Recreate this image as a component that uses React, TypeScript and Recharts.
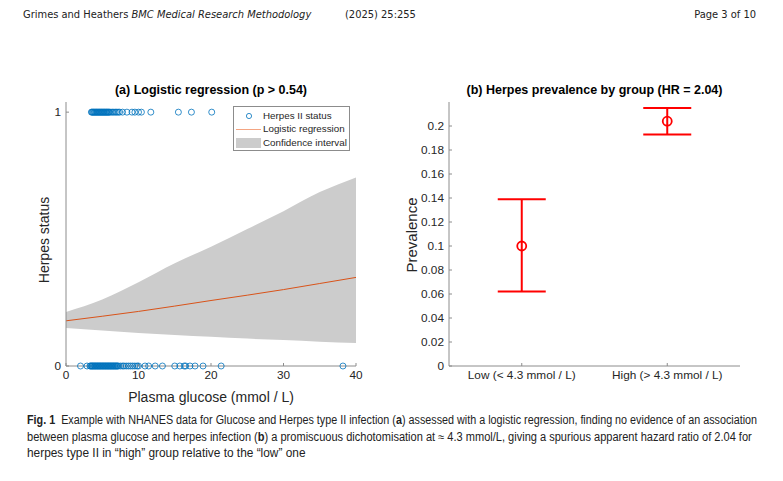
import React, { useLayoutEffect, useRef, useState } from 'react';
import { ComposedChart, Area, Line, Scatter, XAxis, YAxis, ErrorBar } from 'recharts';

// panel (a): logistic fit + confidence band
const glucoseGrid = [0, 5, 10, 15, 20, 25, 30, 35, 40];
const fitValues = [0.178, 0.196, 0.215, 0.236, 0.258, 0.279, 0.301, 0.325, 0.349];
const ciLower = [0.15, 0.14, 0.13, 0.122, 0.115, 0.108, 0.102, 0.096, 0.091];
const ciUpper = [0.213, 0.262, 0.33, 0.405, 0.47, 0.54, 0.61, 0.685, 0.743];

// glucose of individual subjects (status 1 = positive, 0 = negative)
const positiveGlucose = [
  3.5, 3.6, 3.7, 3.8, 3.9, 4.0, 4.1, 4.2, 4.3, 4.4, 4.5, 4.6, 4.7, 4.8, 4.9, 5.0, 5.1, 5.2,
  5.3, 5.4, 5.5, 5.6, 5.7, 5.8, 5.9, 6.0, 6.2, 6.4, 6.6, 6.8, 7.0, 7.2, 7.4, 7.8, 8.4, 9.1,
  9.5, 10.0, 10.4, 11.7, 15.5, 17.3, 20.1,
];
const negativeGlucose = [
  2.0, 2.9, 3.3, 3.4, 3.5, 3.6, 3.7, 3.8, 3.9, 4.0, 4.1, 4.2, 4.3, 4.4, 4.5, 4.6, 4.7, 4.8,
  4.9, 5.0, 5.1, 5.2, 5.3, 5.4, 5.5, 5.6, 5.7, 5.8, 5.9, 6.0, 6.1, 6.2, 6.3, 6.4, 6.5, 6.6,
  6.7, 6.8, 6.9, 7.0, 7.1, 7.2, 7.5, 7.8, 8.0, 8.3, 8.6, 8.9, 9.2, 9.5, 9.8, 10.0, 10.9, 11.4,
  12.3, 13.3, 15.0, 15.7, 16.3, 16.5, 17.1, 17.8, 18.9, 21.4, 38.2,
];
const xTicksA = [0, 10, 20, 30, 40];
const yTicksA = [0, 1];

// panel (b): prevalence by group
const groups = ['Low (< 4.3 mmol / L)', 'High (> 4.3 mmol / L)'];
const prevalence = [0.1, 0.204];
const prevLower = [0.062, 0.193];
const prevUpper = [0.139, 0.215];
const yTicksB = [0, 0.02, 0.04, 0.06, 0.08, 0.1, 0.12, 0.14, 0.16, 0.18, 0.2];

const ciRows = glucoseGrid.map((x, i) => ({ x, fit: fitValues[i], ci: [ciLower[i], ciUpper[i]] }));
const posRows = positiveGlucose.map((x) => ({ x, y: 1 }));
const negRows = negativeGlucose.map((x) => ({ x, y: 0 }));
const groupRows = groups.map((g, i) => ({
  x: i + 1,
  y: prevalence[i],
  err: [prevalence[i] - prevLower[i], prevUpper[i] - prevalence[i]],
}));

const FONT = '"Liberation Sans", Arial, sans-serif';
const NARROW = '"Liberation Sans Narrow", "DejaVu Sans Condensed", sans-serif';
const AXIS = '#8c8c8c';
const TEXT = '#262626';
const tickStyle = { fontSize: 11.8, fill: TEXT, fontFamily: FONT };

const BlueRing = (props: any) => (
  <circle cx={props.cx} cy={props.cy} r={3} fill="none" stroke="#0072BD" strokeWidth={0.8} />
);
const RedRing = (props: any) => (
  <circle cx={props.cx} cy={props.cy} r={4.5} fill="none" stroke="#FF0000" strokeWidth={1.8} />
);

const abs = (left: number, top: number, extra: React.CSSProperties = {}): React.CSSProperties => ({
  position: 'absolute',
  left,
  top,
  whiteSpace: 'nowrap',
  ...extra,
});

// squeezes one line of text horizontally to a given printed width
const FitLine = ({ left, top, width, children }: { left: number; top: number; width: number; children: React.ReactNode }) => {
  const ref = useRef<HTMLDivElement>(null);
  const [scale, setScale] = useState(1);
  useLayoutEffect(() => {
    if (ref.current) setScale(width / ref.current.offsetWidth);
  }, [width]);
  return (
    <div
      ref={ref}
      style={abs(left, top, {
        display: 'inline-block',
        fontFamily: FONT,
        fontSize: 12,
        color: '#222',
        transform: `scaleX(${scale})`,
        transformOrigin: 'left top',
      })}
    >
      {children}
    </div>
  );
};

const PanelA = () => (
  <ComposedChart
    width={380}
    height={420}
    data={ciRows}
    margin={{ top: 102, right: 24, bottom: 24, left: 46 }}
  >
    <XAxis
      dataKey="x"
      type="number"
      domain={[0, 40]}
      ticks={xTicksA}
      tick={tickStyle}
      stroke={AXIS}
      tickSize={-3}
      tickMargin={8}
      height={30}
    />
    <XAxis xAxisId="top" orientation="top" type="number" domain={[0, 40]} ticks={xTicksA} tick={false} stroke={AXIS} tickSize={-3} height={0} />
    <YAxis
      type="number"
      domain={[0, 1.04]}
      ticks={yTicksA}
      tick={tickStyle}
      stroke={AXIS}
      tickSize={-3}
      tickMargin={8}
      width={20}
    />
    <YAxis yAxisId="right" orientation="right" type="number" domain={[0, 1.04]} ticks={yTicksA} tick={false} stroke={AXIS} tickSize={-3} width={0} />
    <Area dataKey="ci" type="monotone" fill="#cccccc" fillOpacity={1} stroke="none" isAnimationActive={false} />
    <Line dataKey="fit" type="monotone" stroke="#D95319" strokeWidth={1} dot={false} isAnimationActive={false} />
    <Scatter data={negRows} dataKey="y" shape={BlueRing} isAnimationActive={false} />
    <Scatter data={posRows} dataKey="y" shape={BlueRing} isAnimationActive={false} />
  </ComposedChart>
);

const PanelB = () => (
  <ComposedChart width={360} height={420} margin={{ top: 102, right: 20, bottom: 24, left: 14 }}>
    <XAxis
      dataKey="x"
      type="number"
      domain={[0.5, 2.5]}
      ticks={[1, 2]}
      tickFormatter={(v: number) => groups[v - 1]}
      tick={tickStyle}
      stroke={AXIS}
      tickSize={-3}
      tickMargin={8}
      height={30}
    />
    <XAxis xAxisId="top" orientation="top" type="number" domain={[0.5, 2.5]} ticks={[1, 2]} tick={false} stroke={AXIS} tickSize={-3} height={0} />
    <YAxis
      type="number"
      domain={[0, 0.22]}
      ticks={yTicksB}
      tick={tickStyle}
      tickFormatter={(v: number) => String(Number(v.toFixed(2)))}
      stroke={AXIS}
      tickSize={-3}
      tickMargin={8}
      width={35}
    />
    <YAxis yAxisId="right" orientation="right" type="number" domain={[0, 0.22]} ticks={yTicksB} tick={false} stroke={AXIS} tickSize={-3} width={0} />
    <Scatter data={groupRows} dataKey="y" shape={RedRing} isAnimationActive={false}>
      <ErrorBar dataKey="err" direction="y" width={24} stroke="#FF0000" strokeWidth={2} />
    </Scatter>
  </ComposedChart>
);

const Legend = () => (
  <div
    style={abs(233, 106, {
      width: 115,
      height: 43,
      border: `1px solid ${AXIS}`,
      background: '#fff',
      fontFamily: FONT,
      fontSize: 9.8,
      color: TEXT,
    })}
  >
    <svg width={30} height={43} style={{ position: 'absolute', left: 0, top: 0 }}>
      <circle cx={15} cy={9} r={2.6} fill="none" stroke="#0072BD" strokeWidth={0.8} />
      <line x1={2} x2={27} y1={22.5} y2={22.5} stroke="#F4A582" strokeWidth={1} />
      <rect x={2} y={31} width={25} height={10} fill="#cccccc" />
    </svg>
    <div style={abs(29, 2.5)}>Herpes II status</div>
    <div style={abs(29, 16)}>Logistic regression</div>
    <div style={abs(29, 29.5)}>Confidence interval</div>
  </div>
);

export default function App() {
  return (
    <div style={{ position: 'absolute', left: 0, top: 0, width: 783, height: 481, background: '#fff', overflow: 'hidden' }}>
      <div style={abs(23, 8, { fontFamily: NARROW, fontSize: 11, color: '#222' })}>
        Grimes and Heathers <i>BMC Medical Research Methodology</i>
      </div>
      <div style={abs(345, 8, { fontFamily: NARROW, fontSize: 11, color: '#222' })}>(2025) 25:255</div>
      <div style={abs(0, 8, { width: 756, textAlign: 'right', fontFamily: NARROW, fontSize: 11, color: '#222' })}>Page 3 of 10</div>

      <PanelA />
      <div style={{ position: 'absolute', left: 400, top: 0 }}>
        <PanelB />
      </div>
      <Legend />

      <div style={abs(66, 83, { width: 290, textAlign: 'center', fontFamily: FONT, fontSize: 12.5, fontWeight: 'bold', color: '#000' })}>
        (a) Logistic regression (p &gt; 0.54)
      </div>
      <div style={abs(449, 83, { width: 291, textAlign: 'center', fontFamily: FONT, fontSize: 12.5, fontWeight: 'bold', color: '#000' })}>
        (b) Herpes prevalence by group (HR = 2.04)
      </div>
      <div style={abs(66, 389, { width: 290, textAlign: 'center', fontFamily: FONT, fontSize: 14, color: TEXT })}>
        Plasma glucose (mmol / L)
      </div>
      <div style={abs(44, 240, { fontFamily: FONT, fontSize: 14, color: TEXT, transform: 'translate(-50%, -50%) rotate(-90deg)' })}>
        Herpes status
      </div>
      <div style={abs(411, 235, { fontFamily: FONT, fontSize: 15, color: TEXT, transform: 'translate(-50%, -50%) rotate(-90deg)' })}>
        Prevalence
      </div>

      <FitLine left={27} top={413} width={730}>
        <b>Fig. 1</b>&nbsp; Example with NHANES data for Glucose and Herpes type II infection (<b>a</b>) assessed with a logistic regression, finding no evidence of an association
      </FitLine>
      <FitLine left={27} top={430} width={725}>
        between plasma glucose and herpes infection (<b>b</b>) a promiscuous dichotomisation at ≈ 4.3 mmol/L, giving a spurious apparent hazard ratio of 2.04 for
      </FitLine>
      <FitLine left={27} top={446} width={278}>
        herpes type II in “high” group relative to the “low” one
      </FitLine>
    </div>
  );
}
